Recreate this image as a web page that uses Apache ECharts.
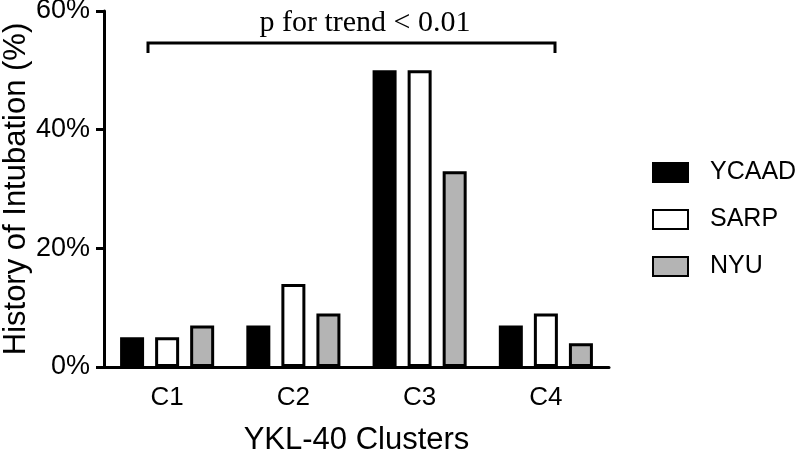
<!DOCTYPE html>
<html>
<head>
<meta charset="utf-8">
<script src="https://cdn.jsdelivr.net/npm/echarts@6/dist/echarts.min.js"></script>
<style>html,body{margin:0;padding:0;background:#fff}#c{width:800px;height:454px}</style>
</head>
<body>
<div id="c"></div>
<script>
var categories = ['C1', 'C2', 'C3', 'C4'];
var seriesNames = ['YCAAD', 'SARP', 'NYU'];
var ycaad = [5, 7, 50, 7];
var sarp = [5, 14, 50, 9];
var nyu = [7, 9, 33, 4];
var yTicks = [0, 20, 40, 60];
var annotationText = 'p for trend < 0.01';

var fills = ['#000000', '#ffffff', '#b4b4b4'];
var values = [ycaad, sarp, nyu];

var chart = echarts.init(document.getElementById('c'));
var series = seriesNames.map(function (n, i) {
  return {
    name: n, type: 'bar', data: values[i],
    barWidth: 24, barGap: '46%',
    itemStyle: { color: fills[i], borderColor: '#000', borderWidth: 3 }
  };
});
chart.setOption({
  animation: false,
  backgroundColor: '#fff',
  grid: { left: 104, right: 191, top: 11, bottom: 87, outerBoundsMode: 'none', containLabel: false },
  xAxis: {
    type: 'category', data: categories,
    name: 'YKL-40 Clusters', nameLocation: 'middle', nameGap: 58, nameMoveOverlap: false,
    nameTextStyle: { fontFamily: 'Liberation Sans', fontSize: 31, color: '#000' },
    axisLine: { lineStyle: { color: '#000', width: 3 } },
    axisTick: { alignWithLabel: true, length: 9, lineStyle: { color: '#000', width: 3 } },
    axisLabel: { fontFamily: 'Liberation Sans', fontSize: 26, color: '#000', margin: 18 }
  },
  yAxis: {
    type: 'value', min: yTicks[0], max: yTicks[yTicks.length - 1], interval: 20,
    name: 'History of Intubation (%)', nameLocation: 'middle', nameGap: 72, nameMoveOverlap: false,
    nameTextStyle: { fontFamily: 'Liberation Sans', fontSize: 31, color: '#000' },
    axisLine: { show: true, lineStyle: { color: '#000', width: 3 } },
    axisTick: { show: true, length: 8, lineStyle: { color: '#000', width: 3 } },
    axisLabel: { fontFamily: 'Liberation Sans', fontSize: 27, color: '#000', margin: 14, formatter: '{value}%' },
    splitLine: { show: false }
  },
  legend: {
    orient: 'vertical', left: 647, top: 155, icon: 'rect',
    itemWidth: 35, itemHeight: 19, itemGap: 22,
    textStyle: { fontFamily: 'Liberation Sans', fontSize: 25, color: '#000', padding: [0, 0, 0, 17] },
    data: seriesNames
  },
  graphic: [
    { type: 'polyline', shape: { points: [[148, 53], [148, 43], [555, 43], [555, 53]] },
      style: { stroke: '#000', lineWidth: 3, fill: null } },
    { type: 'text', x: 365, y: 38,
      style: { text: annotationText, font: '30px "Liberation Serif"', fill: '#000', textAlign: 'center', textVerticalAlign: 'bottom' } }
  ],
  series: series
});
</script>
</body>
</html>
